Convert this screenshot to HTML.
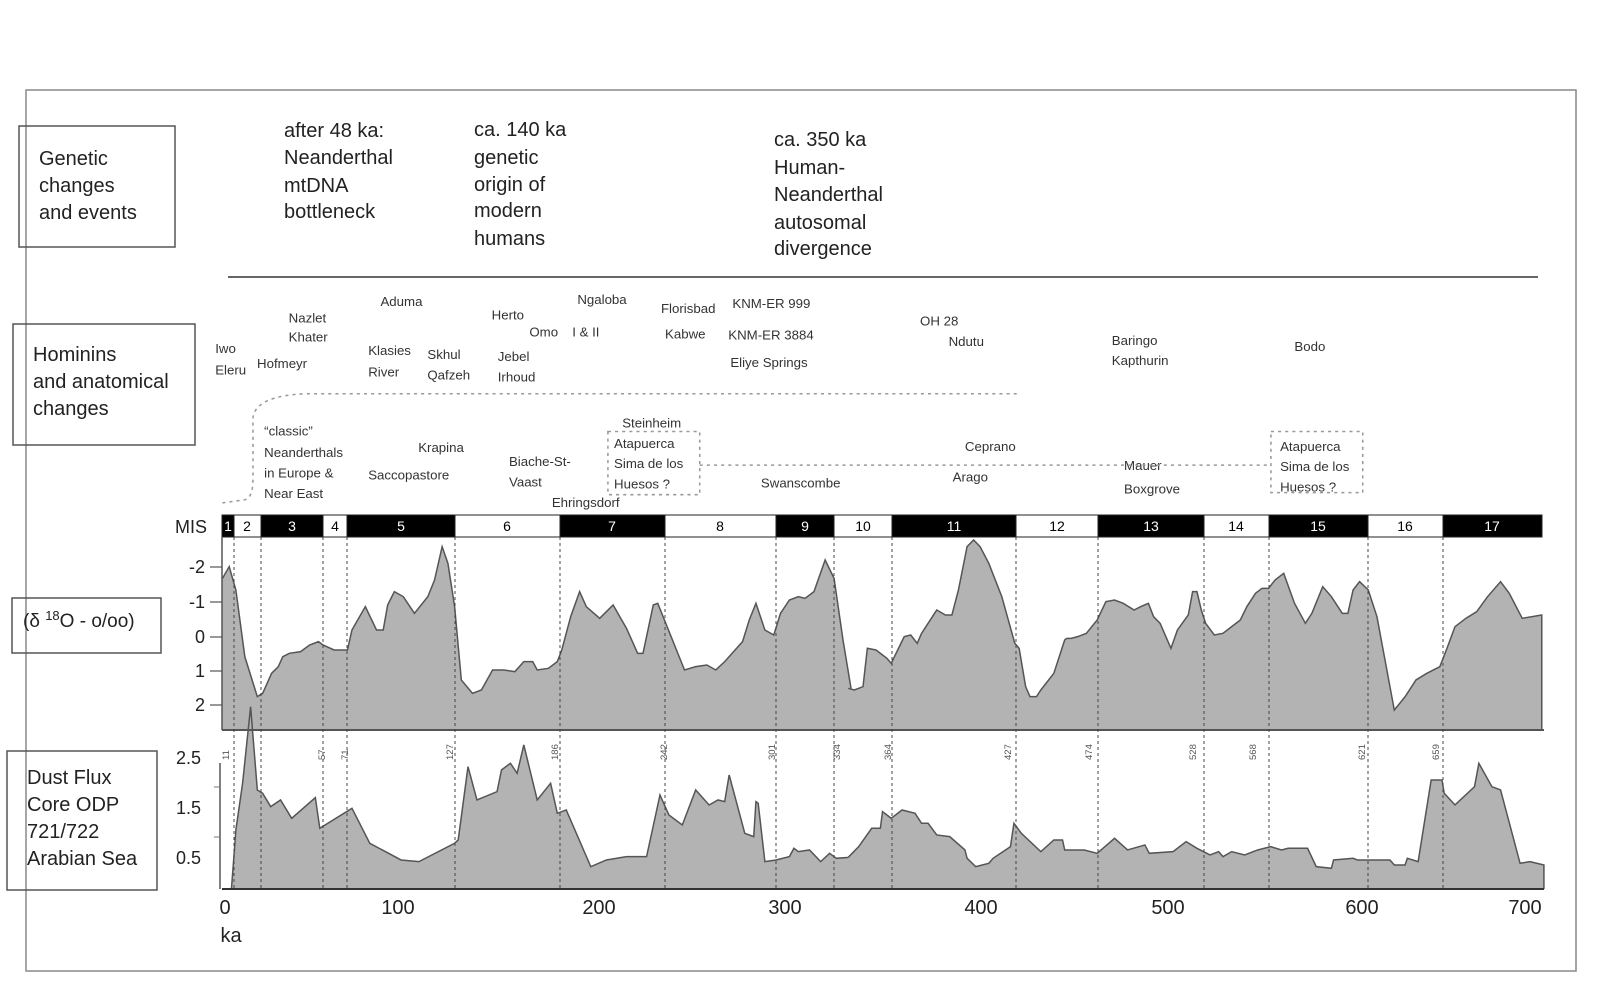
<!DOCTYPE html>
<html><head><meta charset="utf-8"><style>
html,body{margin:0;padding:0;background:#fff;}
svg{display:block;font-family:"Liberation Sans",sans-serif;}
</style></head><body>
<svg width="1600" height="990" viewBox="0 0 1600 990" xmlns="http://www.w3.org/2000/svg">
<rect x="26" y="90" width="1550" height="881" fill="none" stroke="#888" stroke-width="1.5"/>
<line x1="228" y1="277" x2="1538" y2="277" stroke="#333" stroke-width="1.5"/>

<g fill="none" stroke="#555" stroke-width="1.5">
<rect x="19" y="126" width="156" height="121"/>
<rect x="13" y="324" width="182" height="121"/>
<rect x="12" y="598" width="149" height="55"/>
<rect x="7" y="751" width="150" height="139"/>
</g>
<g font-size="20" fill="#222">
<text x="39" y="165">Genetic</text><text x="39" y="192">changes</text><text x="39" y="219">and events</text>
<text x="33" y="361">Hominins</text><text x="33" y="388">and anatomical</text><text x="33" y="415">changes</text>
<text x="23" y="627" font-size="19">(δ <tspan font-size="13" dy="-7">18</tspan><tspan dy="7">O - o/oo)</tspan></text>
<text x="27" y="784">Dust Flux</text><text x="27" y="811">Core  ODP</text><text x="27" y="838">721/722</text><text x="27" y="865">Arabian Sea</text>
</g>

<g font-size="20" fill="#222">
<text x="284" y="137">after 48 ka:</text><text x="284" y="164">Neanderthal</text><text x="284" y="192">mtDNA</text><text x="284" y="218">bottleneck</text>
<text x="474" y="136">ca. 140 ka</text><text x="474" y="164">genetic</text><text x="474" y="191">origin of</text><text x="474" y="217">modern</text><text x="474" y="245">humans</text>
<text x="774" y="146">ca. 350 ka</text><text x="774" y="174">Human-</text><text x="774" y="201">Neanderthal</text><text x="774" y="229">autosomal</text><text x="774" y="255">divergence</text>
</g>

<g transform="scale(1.02)" font-size="13" fill="#333">
<text x="211" y="346">Iwo</text><text x="211" y="367">Eleru</text><text x="252" y="361">Hofmeyr</text>
<text x="283" y="316">Nazlet</text><text x="283" y="335">Khater</text><text x="373" y="300">Aduma</text>
<text x="361" y="348">Klasies</text><text x="361" y="369">River</text><text x="419" y="352">Skhul</text><text x="419" y="372">Qafzeh</text>
<text x="482" y="313">Herto</text><text x="519" y="330">Omo</text><text x="488" y="354">Jebel</text><text x="488" y="374">Irhoud</text>
<text x="566" y="298">Ngaloba</text><text x="561" y="330">I &amp; II</text><text x="648" y="307">Florisbad</text><text x="652" y="332">Kabwe</text>
<text x="718" y="302">KNM-ER 999</text><text x="714" y="333">KNM-ER 3884</text><text x="716" y="360">Eliye Springs</text>
<text x="902" y="319">OH 28</text><text x="930" y="339">Ndutu</text><text x="1090" y="338">Baringo</text><text x="1090" y="358">Kapthurin</text><text x="1269" y="344">Bodo</text>
<text x="259" y="427">“classic”</text><text x="259" y="448">Neanderthals</text><text x="259" y="468">in Europe &amp;</text><text x="259" y="488">Near East</text>
<text x="410" y="443">Krapina</text><text x="361" y="470">Saccopastore</text>
<text x="499" y="457">Biache-St-</text><text x="499" y="477">Vaast</text><text x="541" y="497">Ehringsdorf</text>
<text x="610" y="419">Steinheim</text><text x="602" y="439">Atapuerca</text><text x="602" y="459">Sima de los</text><text x="602" y="479">Huesos ?</text>
<text x="746" y="478">Swanscombe</text><text x="946" y="442">Ceprano</text><text x="934" y="472">Arago</text>
<text x="1102" y="461">Mauer</text><text x="1102" y="484">Boxgrove</text>
<text x="1255" y="442">Atapuerca</text><text x="1255" y="462">Sima de los</text><text x="1255" y="482">Huesos ?</text>
<g fill="none" stroke="#999" stroke-width="1.5" stroke-dasharray="3,4">
<path d="M218,493 L240,490 Q248,488 248,470 L248,410 Q250,388 300,386 L1000,386"/>
<rect x="596" y="423" width="90" height="62"/>
<rect x="1246" y="423" width="90" height="60"/>
<line x1="686" y1="456" x2="1246" y2="456"/>
</g>
</g>

<text x="175" y="533" font-size="18" fill="#222">MIS</text>
<g stroke="#222" stroke-width="1">
<rect x="222" y="515" width="12" height="22" fill="#000"/>
<rect x="234" y="515" width="27" height="22" fill="#fff"/>
<rect x="261" y="515" width="62" height="22" fill="#000"/>
<rect x="323" y="515" width="24" height="22" fill="#fff"/>
<rect x="347" y="515" width="108" height="22" fill="#000"/>
<rect x="455" y="515" width="105" height="22" fill="#fff"/>
<rect x="560" y="515" width="105" height="22" fill="#000"/>
<rect x="665" y="515" width="111" height="22" fill="#fff"/>
<rect x="776" y="515" width="58" height="22" fill="#000"/>
<rect x="834" y="515" width="58" height="22" fill="#fff"/>
<rect x="892" y="515" width="124" height="22" fill="#000"/>
<rect x="1016" y="515" width="82" height="22" fill="#fff"/>
<rect x="1098" y="515" width="106" height="22" fill="#000"/>
<rect x="1204" y="515" width="65" height="22" fill="#fff"/>
<rect x="1269" y="515" width="99" height="22" fill="#000"/>
<rect x="1368" y="515" width="75" height="22" fill="#fff"/>
<rect x="1443" y="515" width="99" height="22" fill="#000"/>
</g>
<g font-size="14" text-anchor="middle">
<text x="228" y="531" fill="#fff">1</text><text x="247" y="531">2</text><text x="292" y="531" fill="#fff">3</text><text x="335" y="531">4</text>
<text x="401" y="531" fill="#fff">5</text><text x="507" y="531">6</text><text x="612" y="531" fill="#fff">7</text><text x="720" y="531">8</text>
<text x="805" y="531" fill="#fff">9</text><text x="863" y="531">10</text><text x="954" y="531" fill="#fff">11</text><text x="1057" y="531">12</text>
<text x="1151" y="531" fill="#fff">13</text><text x="1236" y="531">14</text><text x="1318" y="531" fill="#fff">15</text><text x="1405" y="531">16</text><text x="1492" y="531" fill="#fff">17</text>
</g>

<!-- upper curve -->
<g transform="translate(160,500) scale(0.4464,0.3333)">
<polygon fill="#b3b3b3" stroke="none" points="138,690 140,235 155,200 170,270 190,470 218,590 230,580 250,520 265,500 275,470 290,460 315,455 335,435 355,425 365,435 390,450 420,450 430,390 460,320 485,390 500,390 510,315 525,275 545,290 570,340 600,290 615,240 632,140 645,190 660,320 675,540 700,580 720,570 745,510 770,510 795,515 815,485 835,485 845,510 870,505 890,485 900,450 920,350 940,275 955,320 985,355 1015,315 1045,385 1070,460 1082,460 1105,315 1115,310 1130,360 1175,510 1200,500 1225,495 1245,510 1265,485 1285,455 1305,425 1320,360 1335,310 1355,390 1375,405 1390,340 1410,300 1430,290 1445,295 1465,275 1490,180 1510,235 1530,420 1548,565 1548,690"/>
<polyline fill="none" stroke="#555" stroke-width="1.5" vector-effect="non-scaling-stroke" points="140,235 155,200 170,270 190,470 218,590 230,580 250,520 265,500 275,470 290,460 315,455 335,435 355,425 365,435 390,450 420,450 430,390 460,320 485,390 500,390 510,315 525,275 545,290 570,340 600,290 615,240 632,140 645,190 660,320 675,540 700,580 720,570 745,510 770,510 795,515 815,485 835,485 845,510 870,505 890,485 900,450 920,350 940,275 955,320 985,355 1015,315 1045,385 1070,460 1082,460 1105,315 1115,310 1130,360 1175,510 1200,500 1225,495 1245,510 1265,485 1285,455 1305,425 1320,360 1335,310 1355,390 1375,405 1390,340 1410,300 1430,290 1445,295 1465,275 1490,180 1510,235 1530,420 1548,565"/>
</g>
<g transform="translate(850,500) scale(0.4337,0.3333)">
<polygon fill="#b3b3b3" stroke="none" points="-4,690 -4,565 10,570 30,560 40,445 60,450 85,475 95,490 110,450 125,410 140,405 155,430 165,400 190,350 200,330 220,345 235,345 250,270 270,140 285,120 300,140 320,190 350,290 380,430 390,445 405,560 415,590 430,590 440,570 470,520 495,420 500,415 510,415 525,410 545,400 570,360 590,305 610,300 630,310 655,330 670,320 688,310 700,350 715,370 740,445 755,390 780,345 790,275 800,275 810,330 820,370 840,405 860,400 880,380 900,360 915,320 935,280 950,265 965,265 980,240 1000,220 1025,310 1050,370 1065,340 1090,260 1110,290 1135,340 1148,340 1160,270 1175,245 1195,270 1215,350 1225,420 1255,630 1280,590 1305,540 1330,520 1360,500 1375,450 1395,380 1420,355 1445,335 1470,290 1500,245 1520,280 1550,355 1595,345 1595,690"/>
<polyline fill="none" stroke="#555" stroke-width="1.5" vector-effect="non-scaling-stroke" points="-4,565 10,570 30,560 40,445 60,450 85,475 95,490 110,450 125,410 140,405 155,430 165,400 190,350 200,330 220,345 235,345 250,270 270,140 285,120 300,140 320,190 350,290 380,430 390,445 405,560 415,590 430,590 440,570 470,520 495,420 500,415 510,415 525,410 545,400 570,360 590,305 610,300 630,310 655,330 670,320 688,310 700,350 715,370 740,445 755,390 780,345 790,275 800,275 810,330 820,370 840,405 860,400 880,380 900,360 915,320 935,280 950,265 965,265 980,240 1000,220 1025,310 1050,370 1065,340 1090,260 1110,290 1135,340 1148,340 1160,270 1175,245 1195,270 1215,350 1225,420 1255,630 1280,590 1305,540 1330,520 1360,500 1375,450 1395,380 1420,355 1445,335 1470,290 1500,245 1520,280 1550,355 1595,345 1595,690"/>
</g>
<!-- lower curve -->
<g transform="translate(160,500) scale(0.4464,0.3333)">
<polygon fill="#b3b3b3" stroke="none" points="160,1167 165,1080 170,990 185,850 203,620 218,870 230,880 248,920 270,900 295,955 348,893 358,985 430,925 470,1030 540,1080 580,1085 660,1030 668,1020 690,800 710,900 755,875 765,810 785,790 800,820 815,735 845,900 875,850 890,940 910,930 965,1100 1000,1080 1045,1070 1090,1070 1120,885 1140,945 1170,975 1200,870 1230,915 1250,900 1265,905 1275,825 1310,1000 1330,1010 1335,905 1340,910 1355,1085 1380,1080 1410,1070 1420,1045 1430,1055 1455,1050 1480,1085 1500,1060 1515,1075 1548,1072 1548,1167"/>
<polyline fill="none" stroke="#555" stroke-width="1.5" vector-effect="non-scaling-stroke" points="160,1167 165,1080 170,990 185,850 203,620 218,870 230,880 248,920 270,900 295,955 348,893 358,985 430,925 470,1030 540,1080 580,1085 660,1030 668,1020 690,800 710,900 755,875 765,810 785,790 800,820 815,735 845,900 875,850 890,940 910,930 965,1100 1000,1080 1045,1070 1090,1070 1120,885 1140,945 1170,975 1200,870 1230,915 1250,900 1265,905 1275,825 1310,1000 1330,1010 1335,905 1340,910 1355,1085 1380,1080 1410,1070 1420,1045 1430,1055 1455,1050 1480,1085 1500,1060 1515,1075 1548,1072"/>
</g>
<g transform="translate(850,500) scale(0.4337,0.3333)">
<polygon fill="#b3b3b3" stroke="none" points="-4,1167 -4,1072 20,1040 50,985 70,985 75,935 95,955 120,930 150,940 165,970 180,970 200,1005 230,1010 265,1050 270,1075 290,1100 320,1090 330,1075 370,1040 378,970 395,1000 440,1055 470,1020 490,1020 495,1050 540,1050 570,1060 610,1015 640,1050 680,1035 690,1060 745,1055 775,1025 800,1045 830,1065 850,1055 860,1070 880,1055 910,1065 940,1050 970,1040 995,1050 1010,1045 1055,1045 1075,1100 1110,1105 1115,1080 1160,1075 1170,1080 1245,1080 1255,1095 1280,1095 1285,1075 1310,1085 1340,840 1365,840 1370,880 1395,915 1440,860 1450,790 1480,860 1500,870 1545,1090 1568,1085 1600,1095 1600,1167"/>
<polyline fill="none" stroke="#555" stroke-width="1.5" vector-effect="non-scaling-stroke" points="-4,1072 20,1040 50,985 70,985 75,935 95,955 120,930 150,940 165,970 180,970 200,1005 230,1010 265,1050 270,1075 290,1100 320,1090 330,1075 370,1040 378,970 395,1000 440,1055 470,1020 490,1020 495,1050 540,1050 570,1060 610,1015 640,1050 680,1035 690,1060 745,1055 775,1025 800,1045 830,1065 850,1055 860,1070 880,1055 910,1065 940,1050 970,1040 995,1050 1010,1045 1055,1045 1075,1100 1110,1105 1115,1080 1160,1075 1170,1080 1245,1080 1255,1095 1280,1095 1285,1075 1310,1085 1340,840 1365,840 1370,880 1395,915 1440,860 1450,790 1480,860 1500,870 1545,1090 1568,1085 1600,1095 1600,1167"/>
</g>
<line x1="222" y1="730" x2="1544" y2="730" stroke="#555" stroke-width="2"/>
<line x1="222" y1="889" x2="1544" y2="889" stroke="#333" stroke-width="2"/>

<g stroke="#444" stroke-width="1" stroke-dasharray="3,3">
<line x1="234" y1="537" x2="234" y2="889"/><line x1="261" y1="537" x2="261" y2="889"/>
<line x1="323" y1="537" x2="323" y2="889"/><line x1="347" y1="537" x2="347" y2="889"/>
<line x1="455" y1="537" x2="455" y2="889"/><line x1="560" y1="537" x2="560" y2="889"/>
<line x1="665" y1="537" x2="665" y2="889"/><line x1="776" y1="537" x2="776" y2="889"/>
<line x1="834" y1="537" x2="834" y2="889"/><line x1="892" y1="537" x2="892" y2="889"/>
<line x1="1016" y1="537" x2="1016" y2="889"/><line x1="1098" y1="537" x2="1098" y2="889"/>
<line x1="1204" y1="537" x2="1204" y2="889"/><line x1="1269" y1="537" x2="1269" y2="889"/>
<line x1="1368" y1="537" x2="1368" y2="889"/><line x1="1443" y1="537" x2="1443" y2="889"/>
</g>

<line x1="222" y1="537" x2="222" y2="730" stroke="#555" stroke-width="1.5"/>
<g stroke="#555" stroke-width="1.2">
<line x1="210" y1="567" x2="222" y2="567"/><line x1="210" y1="602" x2="222" y2="602"/><line x1="210" y1="637" x2="222" y2="637"/><line x1="210" y1="671" x2="222" y2="671"/><line x1="210" y1="705" x2="222" y2="705"/>
</g>
<g font-size="18" fill="#222" text-anchor="end">
<text x="205" y="573">-2</text><text x="205" y="608">-1</text><text x="205" y="643">0</text><text x="205" y="677">1</text><text x="205" y="711">2</text>
</g>
<line x1="220" y1="763" x2="220" y2="889" stroke="#555" stroke-width="1.5"/>
<g stroke="#777" stroke-width="1"><line x1="214" y1="787" x2="220" y2="787"/><line x1="214" y1="837" x2="220" y2="837"/></g>
<g font-size="18" fill="#222" text-anchor="end">
<text x="201" y="764">2.5</text><text x="201" y="814">1.5</text><text x="201" y="864">0.5</text>
</g>
<g font-size="9.5" fill="#555">
<text transform="translate(229,760) rotate(-90)">11</text>
<text transform="translate(325,760) rotate(-90)">57</text>
<text transform="translate(348,760) rotate(-90)">71</text>
<text transform="translate(453,760) rotate(-90)">127</text>
<text transform="translate(558,760) rotate(-90)">186</text>
<text transform="translate(667,760) rotate(-90)">242</text>
<text transform="translate(775,760) rotate(-90)">301</text>
<text transform="translate(840,760) rotate(-90)">334</text>
<text transform="translate(891,760) rotate(-90)">364</text>
<text transform="translate(1011,760) rotate(-90)">427</text>
<text transform="translate(1092,760) rotate(-90)">474</text>
<text transform="translate(1196,760) rotate(-90)">528</text>
<text transform="translate(1256,760) rotate(-90)">568</text>
<text transform="translate(1365,760) rotate(-90)">621</text>
<text transform="translate(1439,760) rotate(-90)">659</text>
</g>
<g font-size="20" fill="#222" text-anchor="middle">
<text x="225" y="914">0</text><text x="398" y="914">100</text><text x="599" y="914">200</text><text x="785" y="914">300</text>
<text x="981" y="914">400</text><text x="1168" y="914">500</text><text x="1362" y="914">600</text><text x="1525" y="914">700</text>
<text x="231" y="942">ka</text>
</g>
</svg>
</body></html>
